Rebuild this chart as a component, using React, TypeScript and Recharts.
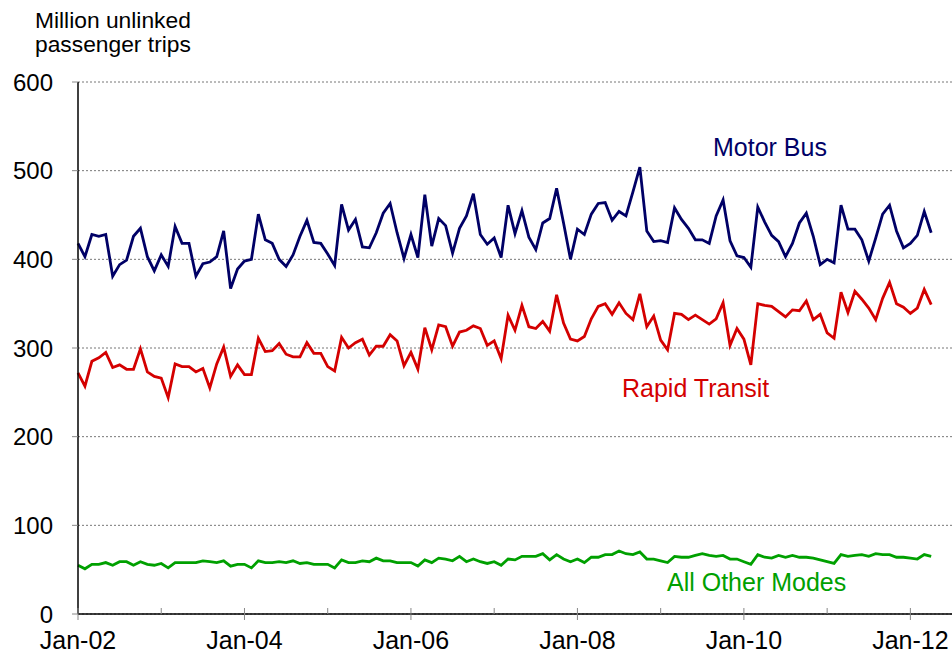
import React from 'react';
import { LineChart, Line, XAxis, YAxis, CartesianGrid } from 'recharts';

// monthly ridership, Jan-02 .. Apr-12 (million unlinked trips)
const motorBus = [
  418, 403, 428, 426, 428, 381, 394, 399, 426, 435,
  403, 387, 405, 392, 437, 418, 418, 381, 395, 397,
  403, 432, 367, 389, 398, 400, 451, 422, 418, 400,
  392, 405, 426, 444, 419, 418, 406, 393, 462, 433,
  445, 414, 413, 430, 452, 463, 430, 401, 428, 402,
  473, 415, 446, 438, 407, 435, 449, 474, 428, 417,
  424, 402, 461, 429, 455, 425, 411, 441, 446, 480,
  441, 400, 434, 428, 451, 463, 464, 444, 454, 449,
  476, 504, 432, 420, 421, 419, 458, 445, 435, 422,
  422, 418, 449, 467, 421, 404, 402, 391, 459, 442,
  427, 420, 403, 418, 441, 452, 426, 394, 400, 396,
  461, 434, 434, 422, 398, 424, 451, 461, 432, 413,
  418, 427, 454, 430,
];

const rapidTransit = [
  272, 257, 285, 289, 295, 278, 281, 276, 276, 299,
  273, 268, 266, 244, 282, 279, 279, 273, 277, 255,
  282, 301, 268, 281, 270, 270, 311, 296, 297, 305,
  293, 290, 290, 306, 294, 294, 279, 274, 312, 300,
  306, 310, 292, 302, 302, 315, 308, 280, 295, 276,
  323, 298, 326, 324, 302, 318, 320, 325, 322, 303,
  308, 288, 337, 320, 348, 324, 322, 330, 319, 360,
  328, 310, 308, 313, 333, 347, 350, 338, 351, 339,
  332, 361, 324, 336, 309, 298, 339, 338, 332, 337,
  332, 327, 333, 351, 303, 322, 310, 281, 350, 348,
  347, 341, 335, 343, 342, 353, 332, 338, 317, 311,
  363, 340, 364, 355, 345, 332, 356, 374, 350, 346,
  339, 345, 366, 349,
];

const otherModes = [
  55, 51, 56, 56, 58, 55, 59, 59, 55, 59,
  56, 55, 57, 52, 58, 58, 58, 58, 60, 59,
  58, 60, 54, 56, 56, 52, 60, 58, 58, 59,
  58, 60, 57, 58, 56, 56, 56, 52, 61, 58,
  58, 60, 59, 63, 60, 60, 58, 58, 58, 54,
  61, 58, 63, 62, 60, 65, 59, 62, 59, 57,
  59, 55, 62, 61, 65, 65, 65, 68, 61, 67,
  62, 59, 62, 58, 64, 64, 67, 67, 71, 68,
  67, 70, 62, 62, 60, 58, 65, 64, 64, 66,
  68, 66, 65, 66, 62, 62, 59, 56, 67, 64,
  63, 66, 64, 66, 64, 64, 63, 61, 59, 57,
  67, 65, 66, 67, 65, 68, 67, 67, 64, 64,
  63, 62, 67, 65,
];

// yearly ticks (month index) and their labels, every other year is labelled
const yearTicks = [0, 12, 24, 36, 48, 60, 72, 84, 96, 108, 120];
const yearLabels = ['Jan-02', '', 'Jan-04', '', 'Jan-06', '', 'Jan-08', '', 'Jan-10', '', 'Jan-12'];
const yTicks = [0, 100, 200, 300, 400, 500, 600];

const data = motorBus.map((v, i) => ({
  m: i,
  bus: v,
  rail: rapidTransit[i],
  other: otherModes[i],
}));

const FONT = '"Liberation Sans", Arial, sans-serif';

const XTick = (props: any) => {
  const { x, y, payload } = props;
  const idx = yearTicks.indexOf(payload.value);
  const label = idx >= 0 ? yearLabels[idx] : '';
  return (
    <g>
      <line x1={x} x2={x} y1={y - 6} y2={label ? y + 6 : y} stroke="#888" strokeWidth={1} />
      {label && (
        <text x={x} y={y + 35} textAnchor="middle" fontSize={25} fill="#000" fontFamily={FONT}>
          {label}
        </text>
      )}
    </g>
  );
};

const App: React.FC = () => {
  return (
    <div style={{ position: 'absolute', left: 0, top: 0, width: 952, height: 658, background: '#fff', fontFamily: FONT }}>
      <LineChart width={952} height={658} data={data} margin={{ top: 82, right: 0, bottom: 0, left: 0 }}>
        <CartesianGrid vertical={false} stroke="#777" strokeDasharray="2 2" />
        <XAxis
          dataKey="m"
          type="number"
          domain={[0, 126]}
          ticks={yearTicks}
          interval={0}
          tickLine={false}
          tickSize={0}
          tickMargin={0}
          axisLine={{ stroke: '#000', strokeWidth: 1.5 }}
          tick={<XTick />}
          height={44}
        />
        <YAxis
          domain={[0, 600]}
          ticks={yTicks}
          interval={0}
          width={78}
          tickSize={6}
          tickMargin={19}
          tickLine={{ stroke: '#888' }}
          axisLine={{ stroke: '#000', strokeWidth: 1.5 }}
          tick={{ fontSize: 24, fill: '#000', fontFamily: FONT }}
        />
        <Line type="linear" dataKey="bus" stroke="#000066" strokeWidth={2.8} dot={false} isAnimationActive={false} />
        <Line type="linear" dataKey="rail" stroke="#d40000" strokeWidth={2.8} dot={false} isAnimationActive={false} />
        <Line type="linear" dataKey="other" stroke="#00a000" strokeWidth={2.8} dot={false} isAnimationActive={false} />
      </LineChart>
      <svg width={952} height={658} style={{ position: 'absolute', left: 0, top: 0, pointerEvents: 'none' }}>
        <text x={35} y={28} fontSize={22.8} fill="#000" fontFamily={FONT}>Million unlinked</text>
        <text x={35} y={52} fontSize={22.8} fill="#000" fontFamily={FONT}>passenger trips</text>
        <text x={713} y={156} fontSize={25} fill="#000066" fontFamily={FONT}>Motor Bus</text>
        <text x={622} y={397} fontSize={25} fill="#d40000" fontFamily={FONT}>Rapid Transit</text>
        <text x={667} y={591} fontSize={25} fill="#00a000" fontFamily={FONT}>All Other Modes</text>
      </svg>
    </div>
  );
};

export default App;
